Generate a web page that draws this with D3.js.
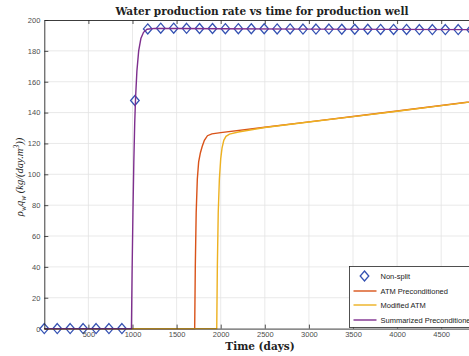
<!DOCTYPE html>
<html>
<head>
<meta charset="utf-8">
<script src="https://cdn.jsdelivr.net/npm/d3@7"></script>
<style>
  html, body { margin: 0; padding: 0; background: #fff; }
  svg { display: block; overflow: hidden; }
</style>
</head>
<body>
<svg id="chart" width="469" height="356"></svg>
<script>
// Non-split run (diamond markers)
const nonSplitDays = [0, 147, 293, 440, 587, 733, 880, 1027, 1173, 1320, 1467, 1613, 1760, 1907, 2053, 2200, 2347,
  2493, 2640, 2787, 2933, 3080, 3227, 3373, 3520, 3667, 3813, 3960, 4107, 4253, 4400, 4547, 4693, 4840, 4987];
const nonSplitRate = [0, 0, 0, 0, 0, 0, 0, 147.8, 194.2, 194.7, 194.7, 194.6, 194.5, 194.5, 194.4, 194.4, 194.3,
  194.3, 194.2, 194.2, 194.1, 194.1, 194.1, 194.0, 194.0, 194.0, 193.9, 193.9, 193.9, 193.8, 193.8, 193.8, 193.8, 193.7, 193.7];

// ATM Preconditioned
const atmDays = [0, 1705, 1712, 1722, 1735, 1750, 1770, 1790, 1815, 1850, 1900, 2000, 2500, 3000, 3500, 4000, 4500, 5000];
const atmRate = [0, 0, 40, 75, 97, 108, 114, 118, 122, 125, 126.2, 127, 130.5, 134, 137.5, 141, 144.6, 148.2];

// Modified ATM
const modDays = [0, 1955, 1962, 1972, 1985, 2000, 2015, 2035, 2060, 2100, 2200, 2350, 2500, 3000, 3500, 4000, 4500, 5000];
const modRate = [0, 0, 40, 75, 97, 110, 117, 122, 124.6, 126, 127.4, 128.9, 130.3, 133.9, 137.4, 140.9, 144.5, 148.1];

// Summarized Preconditioned
const sumDays = [0, 988, 995, 1005, 1015, 1025, 1035, 1050, 1070, 1095, 1125, 1165, 1250, 1500, 2000, 3000, 4000, 5000];
const sumRate = [0, 0, 35, 75, 108, 133, 150, 167, 180, 188, 192, 194, 194.6, 194.5, 194.3, 194.1, 193.9, 193.7];

const xTicks = [500, 1000, 1500, 2000, 2500, 3000, 3500, 4000, 4500];
const yTicks = [0, 20, 40, 60, 80, 100, 120, 140, 160, 180, 200];
const legendNames = ["Non-split", "ATM Preconditioned", "Modified ATM", "Summarized Preconditioned"];

const margin = {top: 20, left: 44.3, bottom: 328.6, right: 485.3};
const svg = d3.select("#chart");

const x = d3.scaleLinear().domain([0, 5000]).range([margin.left, margin.right]);
const y = d3.scaleLinear().domain([0, 200]).range([margin.bottom, margin.top]);

const axisColor = "#262626";
const tickFont = "'Liberation Sans', Arial, sans-serif";

// grid
const grid = svg.append("g").attr("stroke", "#e3e3e3").attr("stroke-width", 0.8);
grid.selectAll("line.gx").data(xTicks).join("line")
  .attr("x1", d => x(d)).attr("x2", d => x(d))
  .attr("y1", margin.top).attr("y2", margin.bottom);
grid.selectAll("line.gy").data(yTicks.slice(1, -1)).join("line")
  .attr("y1", d => y(d)).attr("y2", d => y(d))
  .attr("x1", margin.left).attr("x2", margin.right);

// series
const pts = (xs, ys) => xs.map((d, i) => [d, ys[i]]);
const line = d3.line().x(d => x(d[0])).y(d => y(d[1]));

const diamond = "M0,-5L4.3,0L0,5L-4.3,0Z";
svg.append("g").selectAll("path").data(pts(nonSplitDays, nonSplitRate)).join("path")
  .attr("d", diamond)
  .attr("transform", d => `translate(${x(d[0])},${y(d[1])})`)
  .attr("fill", "none").attr("stroke", "#3451b2").attr("stroke-width", 1.3);

svg.append("path").datum(pts(atmDays, atmRate)).attr("d", line)
  .attr("fill", "none").attr("stroke", "#D95319").attr("stroke-width", 1.4);
svg.append("path").datum(pts(modDays, modRate)).attr("d", line)
  .attr("fill", "none").attr("stroke", "#EDB120").attr("stroke-width", 1.4);
svg.append("path").datum(pts(sumDays, sumRate)).attr("d", line)
  .attr("fill", "none").attr("stroke", "#7E2F8E").attr("stroke-width", 1.4);

// axes (box with inward ticks)
const xBottom = svg.append("g").attr("transform", `translate(0,${margin.bottom})`)
  .call(d3.axisBottom(x).tickValues(xTicks).tickFormat(d3.format("d"))
    .tickSizeInner(-4).tickSizeOuter(0).tickPadding(3));
const xTop = svg.append("g").attr("transform", `translate(0,${margin.top})`)
  .call(d3.axisTop(x).tickValues(xTicks).tickSizeInner(-4).tickSizeOuter(0).tickFormat(""));
const yLeft = svg.append("g").attr("transform", `translate(${margin.left},0)`)
  .call(d3.axisLeft(y).tickValues(yTicks).tickSizeInner(-4).tickSizeOuter(0).tickPadding(4));
[xBottom, xTop, yLeft].forEach(g => {
  g.select(".domain").attr("stroke", axisColor).attr("stroke-width", 0.9);
  g.selectAll(".tick line").attr("stroke", axisColor).attr("stroke-width", 0.8);
  g.selectAll(".tick text").attr("fill", "#4d4d4d").attr("font-family", tickFont).attr("font-size", 7.5);
});

// legend
const lg = svg.append("g").attr("transform", "translate(349.5,266.5)");
lg.append("rect").attr("width", 140).attr("height", 61)
  .attr("fill", "#fff").attr("stroke", axisColor).attr("stroke-width", 0.8);
const legendColors = ["#3451b2", "#D95319", "#EDB120", "#7E2F8E"];
const legendY = [9.5, 24.5, 38.5, 53.5];
legendNames.forEach((name, i) => {
  const row = lg.append("g").attr("transform", `translate(0,${legendY[i]})`);
  if (i === 0) {
    row.append("path").attr("d", diamond).attr("transform", "translate(15,0)")
      .attr("fill", "none").attr("stroke", legendColors[i]).attr("stroke-width", 1.3);
  } else {
    row.append("line").attr("x1", 4).attr("x2", 27).attr("stroke", legendColors[i]).attr("stroke-width", 1.4);
  }
  row.append("text").attr("x", 31).attr("y", 2.7).text(name)
    .attr("font-family", tickFont).attr("font-size", 7.5).attr("fill", "#222");
});

// title and labels
svg.append("text").attr("x", 262).attr("y", 15).attr("text-anchor", "middle")
  .attr("font-family", "'DejaVu Serif', 'Liberation Serif', serif").attr("font-weight", "bold")
  .attr("font-size", 10.5).attr("fill", "#222")
  .text("Water production rate vs time for production well");

svg.append("text").attr("x", 260).attr("y", 350).attr("text-anchor", "middle")
  .attr("font-family", "'DejaVu Serif', 'Liberation Serif', serif").attr("font-weight", "bold")
  .attr("font-size", 10.5).attr("fill", "#222")
  .text("Time (days)");

const yl = svg.append("text").attr("transform", "translate(23,177) rotate(-90)")
  .attr("text-anchor", "middle")
  .attr("font-family", "'Liberation Serif', 'DejaVu Serif', serif").attr("font-style", "italic")
  .attr("font-size", 10.5).attr("fill", "#222");
yl.append("tspan").text("ρ");
yl.append("tspan").attr("dy", 2.5).attr("font-size", 7.5).text("w");
yl.append("tspan").attr("dy", -2.5).text("q");
yl.append("tspan").attr("dy", 2.5).attr("font-size", 7.5).text("w");
yl.append("tspan").attr("dy", -2.5).text(" (kg/(day.m");
yl.append("tspan").attr("dy", -4).attr("font-size", 7.5).text("3");
yl.append("tspan").attr("dy", 4).text("))");
</script>
</body>
</html>
